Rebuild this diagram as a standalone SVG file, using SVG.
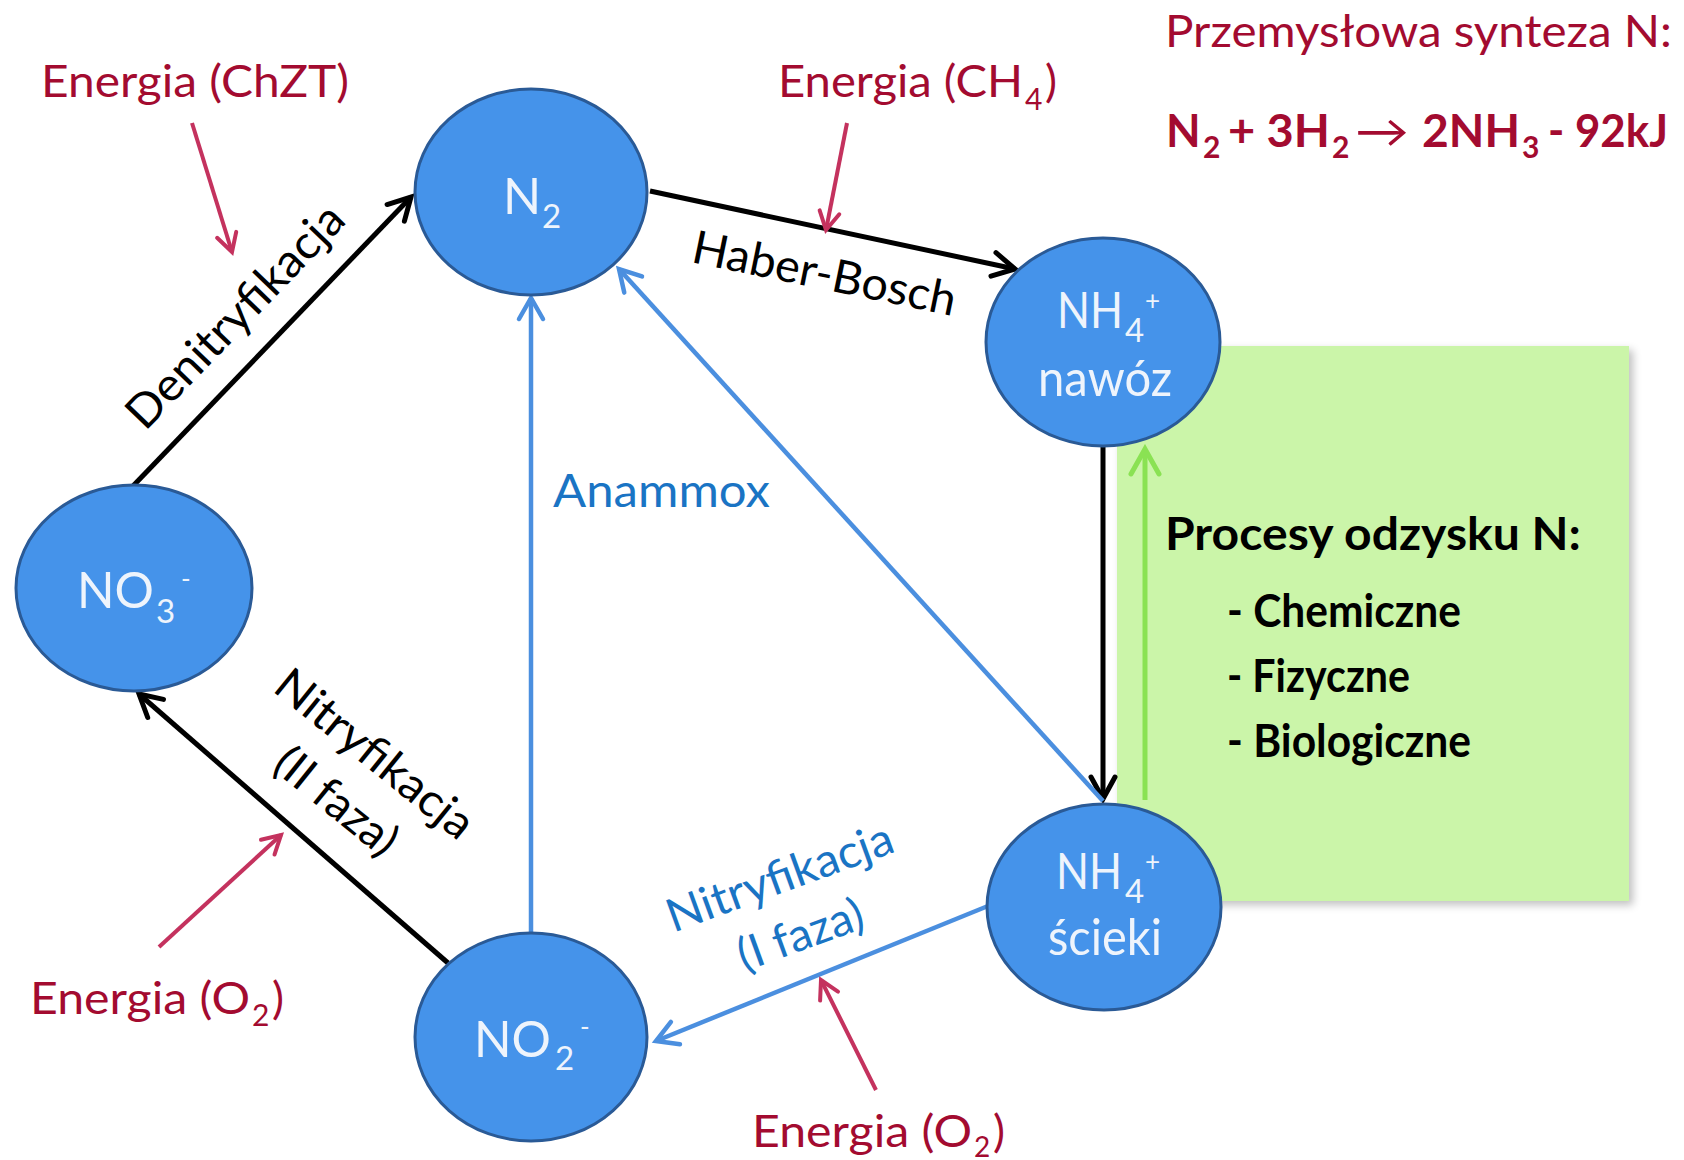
<svg xmlns="http://www.w3.org/2000/svg" width="1684" height="1160" viewBox="0 0 1684 1160">
  <defs>
    <style>
      text { font-family: Lato, "Open Sans", "Liberation Sans", sans-serif; }
      .red { fill: #a30b30; font-size: 45px; }
      .lbl { fill: #000; font-size: 46px; }
      .blu { fill: #1a74c4; font-size: 46px; }
      .bold { font-weight: bold; }
      .node ellipse { fill: #4593ea; stroke: #2a5a96; stroke-width: 3; }
      .node text { fill: #eef4fc; font-size: 50px; }
      .node .sub { font-size: 33px; }
      .node .sup { font-size: 26px; }
      .blk { stroke: #000; stroke-width: 5; fill: none; }
      .bl { stroke: #4b8fdf; stroke-width: 4.5; fill: none; }
      .rd { stroke: #c4325e; stroke-width: 4; fill: none; }
      .gr { stroke: #84e04a; stroke-width: 5; fill: none; }
    </style>
    <marker id="mBlk" markerUnits="userSpaceOnUse" markerWidth="34" markerHeight="34" viewBox="0 0 34 34" refX="29" refY="17" orient="auto">
      <path d="M7,5 L29,17 L7,29" fill="none" stroke="#000" stroke-width="5" stroke-linejoin="miter" stroke-linecap="round"/>
    </marker>
    <marker id="mBl" markerUnits="userSpaceOnUse" markerWidth="34" markerHeight="34" viewBox="0 0 34 34" refX="29" refY="17" orient="auto">
      <path d="M8,5 L29,17 L8,29" fill="none" stroke="#4b8fdf" stroke-width="4.5" stroke-linecap="round"/>
    </marker>
    <marker id="mRd" markerUnits="userSpaceOnUse" markerWidth="30" markerHeight="30" viewBox="0 0 30 30" refX="26" refY="15" orient="auto">
      <path d="M8,5 L26,15 L8,25" fill="none" stroke="#c4325e" stroke-width="4" stroke-linecap="round"/>
    </marker>
    <marker id="mGr" markerUnits="userSpaceOnUse" markerWidth="36" markerHeight="36" viewBox="0 0 36 36" refX="31" refY="18" orient="auto">
      <path d="M6,4 L31,18 L6,32" fill="none" stroke="#84e04a" stroke-width="5" stroke-linecap="round"/>
    </marker>
    <filter id="shadow" x="-5%" y="-5%" width="112%" height="112%">
      <feGaussianBlur in="SourceAlpha" stdDeviation="4"/>
      <feOffset dx="4" dy="4" result="b"/>
      <feComponentTransfer><feFuncA type="linear" slope="0.25"/></feComponentTransfer>
      <feMerge><feMergeNode/><feMergeNode in="SourceGraphic"/></feMerge>
    </filter>
  </defs>
  <rect width="1684" height="1160" fill="#fff"/>

  <!-- green recovery box -->
  <g id="recovery-box">
    <rect x="1117" y="346" width="512" height="555" fill="#cbf5a9" filter="url(#shadow)"/>
    <text class="lbl bold" x="1165" y="550" font-size="47" textLength="416" lengthAdjust="spacingAndGlyphs">Procesy odzysku N:</text>
    <text class="lbl bold" x="1227" y="627" font-size="43" textLength="234" lengthAdjust="spacingAndGlyphs">- Chemiczne</text>
    <text class="lbl bold" x="1227" y="692" font-size="43" textLength="183" lengthAdjust="spacingAndGlyphs">- Fizyczne</text>
    <text class="lbl bold" x="1227" y="757" font-size="43" textLength="244" lengthAdjust="spacingAndGlyphs">- Biologiczne</text>
  </g>

  <!-- connectors -->
  <g id="connectors">
    <line class="blk" x1="650" y1="191" x2="1015" y2="269" marker-end="url(#mBlk)"/>
    <line class="blk" x1="133" y1="486" x2="411" y2="197" marker-end="url(#mBlk)"/>
    <line class="blk" x1="448" y1="963" x2="139" y2="694" marker-end="url(#mBlk)"/>
    <line class="blk" x1="1103" y1="446" x2="1103" y2="799" marker-end="url(#mBlk)"/>
    <line class="gr" x1="1145" y1="800" x2="1145" y2="449" marker-end="url(#mGr)" opacity="0.9"/>
    <line class="bl" x1="531" y1="935" x2="531" y2="298" marker-end="url(#mBl)"/>
    <line class="bl" x1="1103" y1="801" x2="619" y2="269" marker-end="url(#mBl)"/>
    <line class="bl" x1="988" y1="906" x2="656" y2="1041" marker-end="url(#mBl)"/>
    <line class="rd" x1="192" y1="123" x2="232" y2="252" marker-end="url(#mRd)"/>
    <line class="rd" x1="847" y1="123" x2="826" y2="230" marker-end="url(#mRd)"/>
    <line class="rd" x1="159" y1="947" x2="281" y2="835" marker-end="url(#mRd)"/>
    <line class="rd" x1="876" y1="1090" x2="821" y2="980" marker-end="url(#mRd)"/>
  </g>

  <!-- connector labels -->
  <g id="labels">
    <text class="lbl" transform="translate(690,262) rotate(11.6)" textLength="268" lengthAdjust="spacingAndGlyphs">Haber-Bosch</text>
    <text class="lbl" transform="translate(145,432) rotate(-46)" textLength="292" lengthAdjust="spacingAndGlyphs">Denitryfikacja</text>
    <text class="blu" x="553" y="507" textLength="217" lengthAdjust="spacingAndGlyphs">Anammox</text>
    <text class="lbl" transform="translate(365,766) rotate(39)" text-anchor="middle"><tspan x="0" y="0" textLength="241" lengthAdjust="spacingAndGlyphs">Nitryfikacja</tspan><tspan x="0" y="61">(II faza)</tspan></text>
    <text class="blu" transform="translate(785,892) rotate(-20)" text-anchor="middle"><tspan x="0" y="0" textLength="238" lengthAdjust="spacingAndGlyphs">Nitryfikacja</tspan><tspan x="0" y="61">(I faza)</tspan></text>
  </g>

  <!-- energy texts -->
  <g id="energy">
    <text class="red" x="41" y="97" textLength="308" lengthAdjust="spacingAndGlyphs">Energia (ChZT)</text>
    <text class="red" x="778" y="97"><tspan textLength="245" lengthAdjust="spacingAndGlyphs">Energia (CH</tspan><tspan x="1025" y="110" font-size="30">4</tspan><tspan x="1045" y="97">)</tspan></text>
    <text class="red" x="30" y="1014"><tspan textLength="220" lengthAdjust="spacingAndGlyphs">Energia (O</tspan><tspan x="252" y="1026" font-size="30">2</tspan><tspan x="272" y="1014">)</tspan></text>
    <text class="red" x="752" y="1147"><tspan textLength="220" lengthAdjust="spacingAndGlyphs">Energia (O</tspan><tspan x="974" y="1157" font-size="28">2</tspan><tspan x="993" y="1147">)</tspan></text>
  </g>

  <!-- industrial synthesis -->
  <g id="synthesis">
    <text class="red" x="1165" y="47" font-size="46" textLength="507" lengthAdjust="spacingAndGlyphs">Przemysłowa synteza N:</text>
    <text class="red bold" y="147" font-size="44"><tspan x="1166">N</tspan><tspan x="1203" y="158" font-size="30">2</tspan><tspan x="1228" y="147" textLength="102" lengthAdjust="spacingAndGlyphs">+ 3H</tspan><tspan x="1332" y="158" font-size="30">2</tspan><tspan x="1355" y="147" font-weight="normal" textLength="54" lengthAdjust="spacingAndGlyphs">→</tspan><tspan x="1422" textLength="98" lengthAdjust="spacingAndGlyphs">2NH</tspan><tspan x="1522" y="158" font-size="30">3</tspan><tspan x="1548" y="147" textLength="120" lengthAdjust="spacingAndGlyphs">- 92kJ</tspan></text>
  </g>

  <!-- nodes -->
  <g id="node-N2" class="node">
    <ellipse cx="531" cy="192" rx="116" ry="103"/>
    <text><tspan x="503" y="214">N</tspan><tspan class="sub" x="542" y="228">2</tspan></text>
  </g>
  <g id="node-NH4-nawoz" class="node">
    <ellipse cx="1103" cy="342" rx="117" ry="104"/>
    <text><tspan x="1057" y="328" textLength="66" lengthAdjust="spacingAndGlyphs">NH</tspan><tspan class="sub" x="1125" y="342">4</tspan><tspan class="sup" x="1145" y="310">+</tspan></text>
    <text x="1105" y="396" text-anchor="middle" textLength="134" lengthAdjust="spacingAndGlyphs">nawóz</text>
  </g>
  <g id="node-NO3" class="node">
    <ellipse cx="134" cy="588" rx="118" ry="103"/>
    <text><tspan x="77" y="608" textLength="77" lengthAdjust="spacingAndGlyphs">NO</tspan><tspan class="sub" x="156" y="623">3</tspan><tspan class="sup" x="181" y="588">-</tspan></text>
  </g>
  <g id="node-NO2" class="node">
    <ellipse cx="531" cy="1037" rx="116" ry="104"/>
    <text><tspan x="474" y="1057" textLength="77" lengthAdjust="spacingAndGlyphs">NO</tspan><tspan class="sub" x="555" y="1070">2</tspan><tspan class="sup" x="580" y="1036">-</tspan></text>
  </g>
  <g id="node-NH4-scieki" class="node">
    <ellipse cx="1104" cy="907" rx="117" ry="103"/>
    <text><tspan x="1056" y="889" textLength="66" lengthAdjust="spacingAndGlyphs">NH</tspan><tspan class="sub" x="1125" y="903">4</tspan><tspan class="sup" x="1145" y="871">+</tspan></text>
    <text x="1105" y="955" text-anchor="middle" textLength="114" lengthAdjust="spacingAndGlyphs">ścieki</text>
  </g>
</svg>
